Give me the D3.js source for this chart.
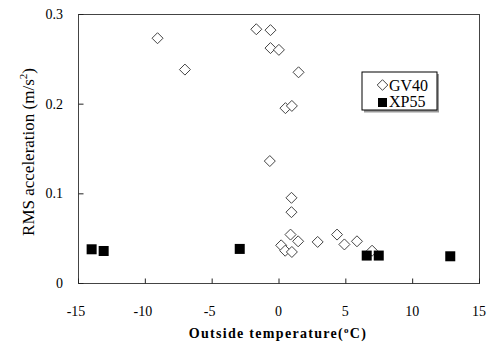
<!DOCTYPE html>
<meta charset="utf-8">
<style>
  body { margin: 0; background: #fff; }
  svg text { font-family: "Liberation Serif", "Times New Roman", Times, serif; fill: #000; }
  .tick-label { font-size: 14px; }
</style>
<script src="https://d3js.org/d3.v7.min.js"></script>
<div id="chart"></div>
<script>

// GV40 series: outside temperature (C) and RMS acceleration (m/s2)
var gv40Temp = [-9.05, -7.0, -1.66, -0.6, -0.6, 0.03, 1.5, 0.52, 1.0, -0.65,
                0.97, 0.97, 0.9, 1.47, 0.2, 0.5, 1.0, 2.93, 4.38, 4.93, 5.87, 7.0];
var gv40Rms  = [0.273, 0.238, 0.283, 0.282, 0.262, 0.260, 0.235, 0.195, 0.1975, 0.136,
                0.095, 0.079, 0.054, 0.0465, 0.042, 0.036, 0.0346, 0.0458, 0.054, 0.043, 0.0465, 0.036];

// XP55 series
var xp55Temp = [-13.98, -13.08, -2.9, 6.6, 7.5, 12.85];
var xp55Rms  = [0.0376, 0.0357, 0.038, 0.0306, 0.0306, 0.0298];

var xTicks = [-15, -10, -5, 0, 5, 10, 15];
var yTicks = [0, 0.1, 0.2, 0.3];

var width = 495, height = 343;
var plot = {left: 78, right: 479, top: 14, bottom: 283};

var svg = d3.select("#chart").append("svg")
    .attr("width", width)
    .attr("height", height);

var x = d3.scaleLinear().domain([-15, 15]).range([plot.left, plot.right]);
var y = d3.scaleLinear().domain([0, 0.3]).range([plot.bottom, plot.top]);

// frame
svg.append("rect")
    .attr("x", plot.left + 0.5)
    .attr("y", plot.top + 0.5)
    .attr("width", plot.right - plot.left)
    .attr("height", plot.bottom - plot.top)
    .attr("fill", "none")
    .attr("stroke", "#444")
    .attr("stroke-width", 1);

// x axis: minor ticks every 1, major every 5, pointing inward
var xAxis = svg.append("g")
    .attr("transform", "translate(0," + (plot.bottom + 0.5) + ")");
xAxis.call(d3.axisBottom(x).tickValues(d3.range(-15, 16, 1)).tickSize(-3).tickFormat(""));
xAxis.call(d3.axisBottom(x).tickValues(xTicks).tickSize(-5).tickFormat(""));
xAxis.selectAll(".domain").remove();
xAxis.selectAll("line").attr("stroke", "#222");

svg.append("g").selectAll("text")
  .data(xTicks)
  .enter().append("text")
    .attr("class", "tick-label")
    .attr("x", function(d) { return x(d) - (d < 0 ? 2 : 0); })
    .attr("y", 316)
    .attr("text-anchor", "middle")
    .text(function(d) { return d; });

// y axis
var yAxis = svg.append("g")
    .attr("transform", "translate(" + (plot.left + 0.5) + ",0)");
yAxis.call(d3.axisLeft(y).tickValues(d3.range(0, 0.31, 0.05)).tickSize(-3).tickFormat(""));
yAxis.call(d3.axisLeft(y).tickValues(yTicks).tickSize(-5).tickFormat(""));
yAxis.selectAll(".domain").remove();
yAxis.selectAll("line").attr("stroke", "#222");

svg.append("g").selectAll("text")
  .data(yTicks)
  .enter().append("text")
    .attr("class", "tick-label")
    .attr("x", 63)
    .attr("y", function(d) { return y(d) + 5; })
    .attr("text-anchor", "end")
    .text(function(d) { return d; });

// axis titles
svg.append("text")
    .attr("x", 278)
    .attr("y", 338)
    .attr("text-anchor", "middle")
    .style("font-size", "14px")
    .style("font-weight", "bold")
    .style("letter-spacing", "1.3px")
    .html("Outside temperature(<tspan dy='-5' font-size='9px'>o</tspan><tspan dy='5'>C)</tspan>");

svg.append("text")
    .attr("transform", "translate(34,152) rotate(-90)")
    .attr("text-anchor", "middle")
    .style("font-size", "17px")
    .html("RMS acceleration (m/s<tspan dy='-7' font-size='11px'>2</tspan><tspan dy='7'>)</tspan>");

// markers
var diamond = function(cx, cy, r) {
  return "M" + cx + "," + (cy - r) + "L" + (cx + r) + "," + cy +
         "L" + cx + "," + (cy + r) + "L" + (cx - r) + "," + cy + "Z";
};

svg.append("g").selectAll("path")
  .data(d3.range(gv40Temp.length))
  .enter().append("path")
    .attr("d", function(i) { return diamond(x(gv40Temp[i]), y(gv40Rms[i]), 5.5); })
    .attr("fill", "#fff")
    .attr("stroke", "#444")
    .attr("stroke-width", 1);

svg.append("g").selectAll("rect")
  .data(d3.range(xp55Temp.length))
  .enter().append("rect")
    .attr("x", function(i) { return x(xp55Temp[i]) - 5; })
    .attr("y", function(i) { return y(xp55Rms[i]) - 5; })
    .attr("width", 10)
    .attr("height", 10)
    .attr("fill", "#000");

// legend
var legend = svg.append("g");
legend.append("rect")
    .attr("x", 364).attr("y", 74)
    .attr("width", 75).attr("height", 38.5)
    .attr("fill", "#999");
legend.append("rect")
    .attr("x", 362).attr("y", 72)
    .attr("width", 75).attr("height", 38)
    .attr("fill", "#fff")
    .attr("stroke", "#000")
    .attr("stroke-width", 1);
legend.append("path")
    .attr("d", diamond(382.5, 85, 5.3))
    .attr("fill", "#fff")
    .attr("stroke", "#444");
legend.append("rect")
    .attr("x", 378).attr("y", 98)
    .attr("width", 9).attr("height", 9)
    .attr("fill", "#000");
legend.append("text")
    .attr("x", 389).attr("y", 90.5)
    .style("font-size", "16px")
    .text("GV40");
legend.append("text")
    .attr("x", 389).attr("y", 107)
    .style("font-size", "16px")
    .text("XP55");

</script>
